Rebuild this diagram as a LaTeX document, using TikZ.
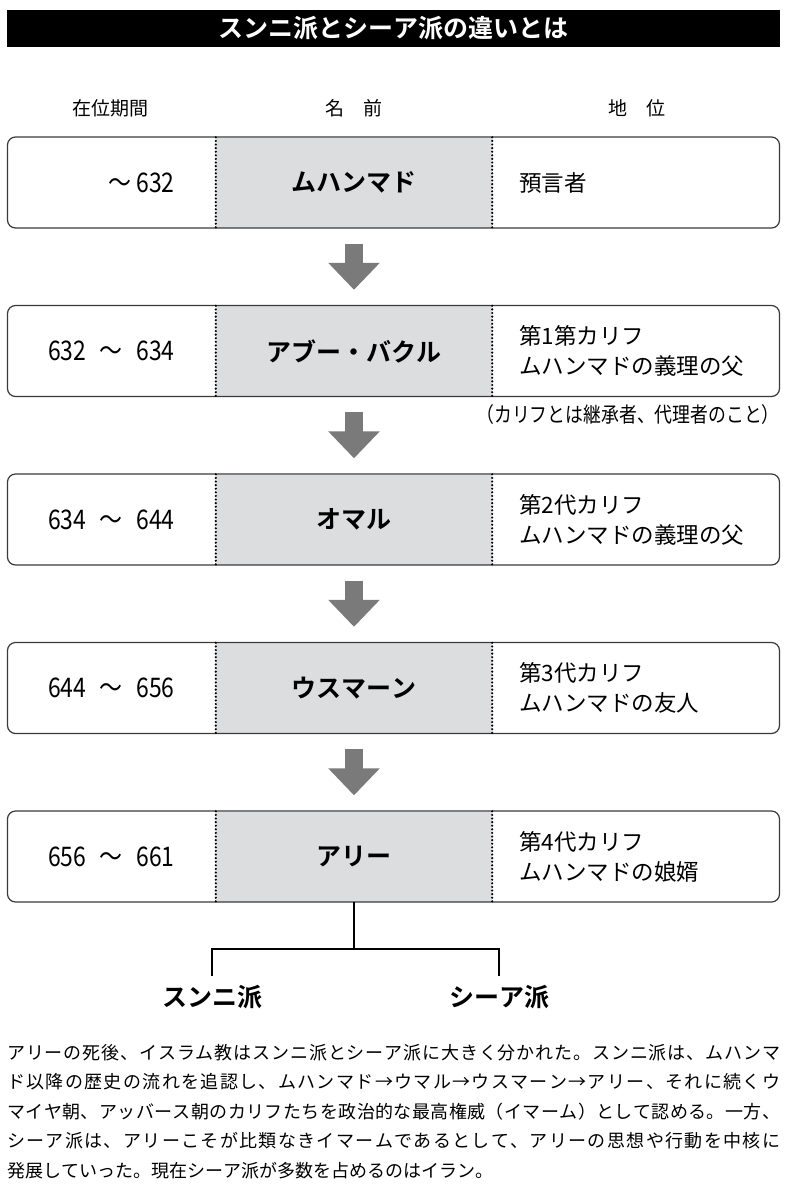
\documentclass[tikz,border=0pt]{standalone}
\usepackage{fontspec}
\setmainfont{Noto Sans CJK JP}[BoldFont={Noto Sans CJK JP Bold}]
\newfontfamily\narrowfont{Noto Sans CJK JP}[FakeStretch=0.85]
\usetikzlibrary{arrows.meta,positioning}
\newXeTeXintercharclass\jclass
\newcount\jc
\jc="3000 \loop\XeTeXcharclass\jc=\jclass\advance\jc by 1 \ifnum\jc<"3100 \repeat
\jc="4E00 \loop\XeTeXcharclass\jc=\jclass\advance\jc by 1 \ifnum\jc<"A000 \repeat
\jc="FF00 \loop\XeTeXcharclass\jc=\jclass\advance\jc by 1 \ifnum\jc<"FF70 \repeat
\XeTeXcharclass"2192=\jclass
\XeTeXinterchartoks\jclass\jclass={\hskip 0pt plus 1pt\relax}
\XeTeXinterchartokenstate=1
\definecolor{namegray}{HTML}{DCDDDF}
\definecolor{linegray}{HTML}{3A3A3A}
\definecolor{arrowgray}{HTML}{7A7A7A}
\tikzset{%
  rowbox/.style    = {shape=rectangle, rounded corners=8pt, draw=linegray,%
                      line width=1.2pt, minimum width=772pt, minimum height=91pt, inner sep=0pt},%
  namebox/.style   = {shape=rectangle, fill=namegray, minimum width=276pt,%
                      minimum height=90pt, inner sep=0pt, font=\fontsize{25}{30}\selectfont\bfseries},%
  period/.style    = {inner sep=0pt, font=\narrowfont\fontsize{27}{30}\selectfont},%
  rank/.style      = {inner sep=0pt, align=left, font=\fontsize{22.5}{30}\selectfont},%
  colhead/.style   = {inner sep=0pt, font=\fontsize{19}{22}\selectfont},%
  divider/.style   = {dash pattern=on 0pt off 3.6pt, line width=2.4pt, line cap=round},%
  flowarrow/.style = {draw=arrowgray, line width=18pt, -{Triangle[width=50pt,length=27pt]},%
                      shorten <=16pt, shorten >=16pt},%
  branch/.style    = {line width=2.8pt},%
  sectlabel/.style = {inner sep=9pt, font=\fontsize{25}{30}\selectfont\bfseries}%
}

\begin{document}
\begin{tikzpicture}[x=1pt, y=-1pt]
  \useasboundingbox (0,0) rectangle (789,1186);
  \node[fill=black, text=white, minimum width=773pt, minimum height=37pt, inner sep=0pt,
        font=\fontsize{25}{30}\selectfont\bfseries] (title) at (393.5,28.5) {スンニ派とシーア派の違いとは};
  \node[colhead] (hterm) at (110,108) {在位期間};
  \node[colhead] (hname) at (354,108) {名　前};
  \node[colhead] (hrank) at (637,108) {地　位};

  \node[namebox] (name1) at (354,182.5) {ムハンマド};
  \node[rowbox] (box1) at (393.5,182.5) {};
  \node[period, left=41pt of name1] (term1) {～\,632};
  \node[rank, right=27pt of name1] (rank1) {預言者};
  \draw[divider] (name1.north west) -- (name1.south west);
  \draw[divider] (name1.north east) -- (name1.south east);

  \node[namebox] (name2) at (354,351) {アブー・バクル};
  \node[rowbox] (box2) at (393.5,351) {};
  \node[period, left=41pt of name2] (term2) {632\enspace～\enspace634};
  \node[rank, right=27pt of name2] (rank2) {第1第カリフ\\ムハンマドの義理の父};
  \draw[divider] (name2.north west) -- (name2.south west);
  \draw[divider] (name2.north east) -- (name2.south east);
  \node[inner sep=0pt, anchor=east, font=\narrowfont\fontsize{21}{26}\selectfont] (note) at (780,415)
       {（カリフとは継承者、代理者のこと）};

  \node[namebox] (name3) at (354,519.5) {オマル};
  \node[rowbox] (box3) at (393.5,519.5) {};
  \node[period, left=41pt of name3] (term3) {634\enspace～\enspace644};
  \node[rank, right=27pt of name3] (rank3) {第2代カリフ\\ムハンマドの義理の父};
  \draw[divider] (name3.north west) -- (name3.south west);
  \draw[divider] (name3.north east) -- (name3.south east);

  \node[namebox] (name4) at (354,688) {ウスマーン};
  \node[rowbox] (box4) at (393.5,688) {};
  \node[period, left=41pt of name4] (term4) {644\enspace～\enspace656};
  \node[rank, right=27pt of name4] (rank4) {第3代カリフ\\ムハンマドの友人};
  \draw[divider] (name4.north west) -- (name4.south west);
  \draw[divider] (name4.north east) -- (name4.south east);

  \node[namebox] (name5) at (354,856.5) {アリー};
  \node[rowbox] (box5) at (393.5,856.5) {};
  \node[period, left=41pt of name5] (term5) {656\enspace～\enspace661};
  \node[rank, right=27pt of name5] (rank5) {第4代カリフ\\ムハンマドの娘婿};
  \draw[divider] (name5.north west) -- (name5.south west);
  \draw[divider] (name5.north east) -- (name5.south east);

  \draw[flowarrow] (name1.south) -- (name2.north);
  \draw[flowarrow] (name2.south) -- (name3.north);
  \draw[flowarrow] (name3.south) -- (name4.north);
  \draw[flowarrow] (name4.south) -- (name5.north);

  \node[sectlabel] (sunni) at (212,997) {スンニ派};
  \node[sectlabel] (shia) at (499,997) {シーア派};
  \coordinate (split) at (354,949);
  \draw[branch] (name5.south) -- (split);
  \draw[branch] (split) -| (sunni);
  \draw[branch] (split) -| (shia);

  \node[anchor=north west, inner sep=0pt, text width=773pt, align=justify,
        font=\fontsize{18}{29.5}\selectfont] (story) at (7,1044)
  {アリーの死後、イスラム教はスンニ派とシーア派に大きく分かれた。スンニ派は、ムハンマ\linebreak
   ド以降の歴史の流れを追認し、ムハンマド→ウマル→ウスマーン→アリー、それに続くウ\linebreak
   マイヤ朝、アッバース朝のカリフたちを政治的な最高権威（イマーム）として認める。一方、\linebreak
   シーア派は、アリーこそが比類なきイマームであるとして、アリーの思想や行動を中核に\linebreak
   発展していった。現在シーア派が多数を占めるのはイラン。};
\end{tikzpicture}
\end{document}
